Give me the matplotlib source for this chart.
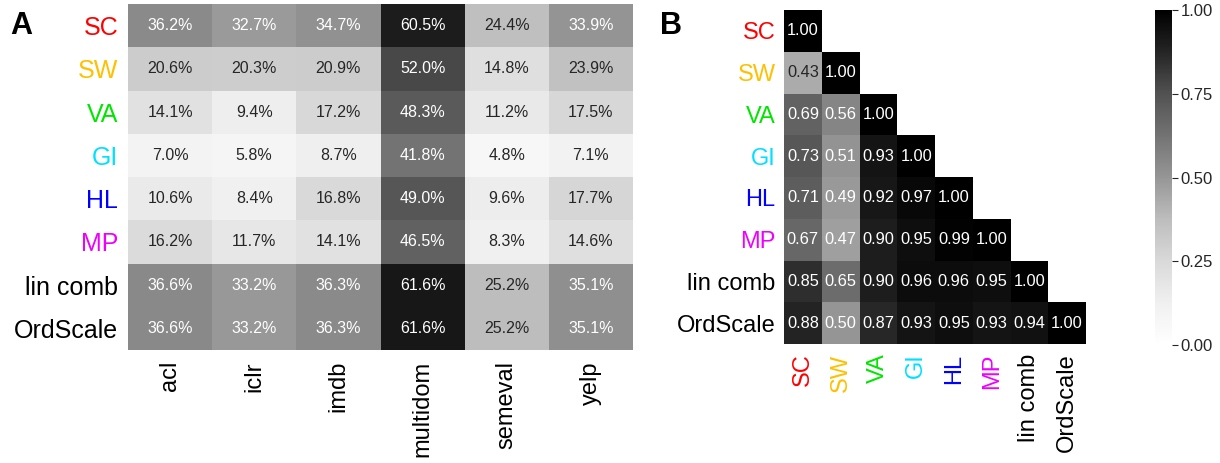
import numpy as np
import matplotlib.pyplot as plt
from matplotlib import colors as mcolors

plt.rcParams['font.family'] = ['Liberation Sans', 'DejaVu Sans']

methods = ["SC", "SW", "VA", "GI", "HL", "MP", "lin comb", "OrdScale"]
method_colors = ["#ff0000", "#ffc000", "#00e600", "#00e0ff", "#0000ff", "#ee00ff", "black", "black"]
datasets = ["acl", "iclr", "imdb", "multidom", "semeval", "yelp"]

# agreement per method and dataset (fraction)
acc_sc = [0.362, 0.327, 0.347, 0.605, 0.244, 0.339]
acc_sw = [0.206, 0.203, 0.209, 0.520, 0.148, 0.239]
acc_va = [0.141, 0.094, 0.172, 0.483, 0.112, 0.175]
acc_gi = [0.070, 0.058, 0.087, 0.418, 0.048, 0.071]
acc_hl = [0.106, 0.084, 0.168, 0.490, 0.096, 0.177]
acc_mp = [0.162, 0.117, 0.141, 0.465, 0.083, 0.146]
acc_lin = [0.366, 0.332, 0.363, 0.616, 0.252, 0.351]
acc_ord = [0.366, 0.332, 0.363, 0.616, 0.252, 0.351]

# lower triangle of the correlation matrix
corr_rows = [
    [1.00],
    [0.43, 1.00],
    [0.69, 0.56, 1.00],
    [0.73, 0.51, 0.93, 1.00],
    [0.71, 0.49, 0.92, 0.97, 1.00],
    [0.67, 0.47, 0.90, 0.95, 0.99, 1.00],
    [0.85, 0.65, 0.90, 0.96, 0.96, 0.95, 1.00],
    [0.88, 0.50, 0.87, 0.93, 0.95, 0.93, 0.94, 1.00],
]

cmap = plt.get_cmap("Greys")


def text_color(rgba):
    c = np.array(rgba[:3])
    c = np.where(c <= 0.03928, c / 12.92, ((c + 0.055) / 1.055) ** 2.4)
    lum = 0.2126 * c[0] + 0.7152 * c[1] + 0.0722 * c[2]
    return ".15" if lum > .408 else "w"


def heat(ax, data, norm, fmt, fs):
    ax.pcolormesh(data, cmap=cmap, norm=norm)
    ax.set_xlim(0, data.shape[1])
    ax.set_ylim(data.shape[0], 0)
    for i in range(data.shape[0]):
        for j in range(data.shape[1]):
            v = data[i, j]
            if np.ma.is_masked(v):
                continue
            ax.text(j + 0.5, i + 0.5, fmt.format(v), ha="center", va="center",
                    fontsize=fs, color=text_color(cmap(norm(v))))
    for s in ax.spines.values():
        s.set_visible(False)
    ax.tick_params(length=0)


fig = plt.figure(figsize=(12.2, 4.63), dpi=100)

# A: agreement table
axA = fig.add_axes([128 / 1220, 1 - 350 / 463, (633 - 128) / 1220, 346 / 463])
accA = np.array([acc_sc, acc_sw, acc_va, acc_gi, acc_hl, acc_mp, acc_lin, acc_ord])
heat(axA, accA, mcolors.Normalize(0, 0.67), "{:.1%}", 11.5)
axA.set_xticks(np.arange(len(datasets)) + 0.5)
axA.set_xticklabels(datasets, rotation=90, fontsize=17)
axA.set_yticks(np.arange(len(methods)) + 0.5)
axA.set_yticklabels(methods, fontsize=18)
axA.tick_params(axis="y", pad=7)
axA.tick_params(axis="x", pad=8)
for lab, c in zip(axA.get_yticklabels(), method_colors):
    lab.set_color(c)

# B: correlation between methods
axB = fig.add_axes([784 / 1220, 1 - 344 / 463, (1086 - 784) / 1220, 334 / 463])
n = len(methods)
corr = np.ma.masked_all((n, n))
for i, row in enumerate(corr_rows):
    corr[i, :len(row)] = row
normB = mcolors.Normalize(0, 1)
heat(axB, corr, normB, "{:.2f}", 11.8)
axB.set_xticks(np.arange(n) + 0.5)
axB.set_xticklabels(methods, rotation=90, fontsize=17)
axB.set_yticks(np.arange(n) + 0.5)
axB.set_yticklabels(methods, fontsize=17)
axB.tick_params(axis="y", pad=6)
axB.tick_params(axis="x", pad=7)
for lab, c in zip(axB.get_yticklabels(), method_colors):
    lab.set_color(c)
for lab, c in zip(axB.get_xticklabels(), method_colors):
    lab.set_color(c)

cax = fig.add_axes([1155 / 1220, 1 - 345 / 463, 17 / 1220, 335 / 463])
sm = plt.cm.ScalarMappable(norm=normB, cmap=cmap)
cb = fig.colorbar(sm, cax=cax, ticks=[0, 0.25, 0.5, 0.75, 1.0])
cb.outline.set_visible(False)
cb.ax.set_yticklabels(["0.00", "0.25", "0.50", "0.75", "1.00"])
cb.ax.tick_params(labelsize=12, length=4, width=0.8, color=".15", labelcolor=".15", pad=2)

fig.text(10 / 1220, 1 - 34 / 463, "A", fontsize=22, fontweight="bold")
fig.text(660 / 1220, 1 - 34 / 463, "B", fontsize=22, fontweight="bold")

fig.savefig("out.png", dpi=100)
